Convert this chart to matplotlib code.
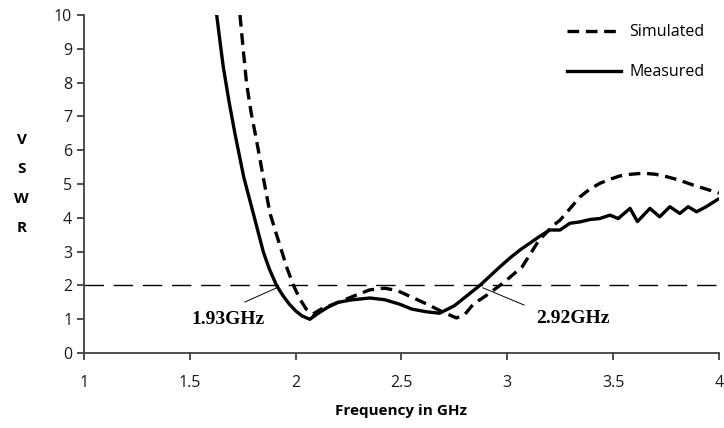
import matplotlib.pyplot as plt

# simulated VSWR
sim_f = [1.737, 1.752, 1.768, 1.79, 1.815, 1.847, 1.879, 1.91, 1.935, 1.96, 1.99,
         2.02, 2.05, 2.08, 2.12, 2.2, 2.28,
         2.35, 2.42, 2.48, 2.55, 2.62, 2.70, 2.76, 2.80, 2.84, 2.90, 2.98, 3.07,
         3.15, 3.22, 3.249, 3.30, 3.343, 3.39, 3.437, 3.485, 3.532, 3.585, 3.642,
         3.70, 3.752, 3.815, 3.878, 3.94, 3.99, 4.0]
sim_v = [10.0, 9.0, 7.98, 7.1, 6.3, 5.2, 4.13, 3.5, 3.0, 2.5, 2.0,
         1.6, 1.3, 1.15, 1.3, 1.5, 1.7,
         1.87, 1.92, 1.85, 1.65, 1.45, 1.2, 1.04, 1.15, 1.45, 1.7, 2.07, 2.55,
         3.34, 3.79, 3.93, 4.3, 4.62, 4.85, 5.02, 5.14, 5.24, 5.29, 5.32,
         5.29, 5.22, 5.11, 4.97, 4.85, 4.75, 4.73]

# measured VSWR
mea_f = [1.627, 1.643, 1.658, 1.685, 1.713, 1.755, 1.80, 1.847, 1.875,
         1.91, 1.94, 1.97, 2.0, 2.03, 2.067, 2.1, 2.15,
         2.2, 2.26, 2.35, 2.42, 2.49, 2.55, 2.62, 2.68, 2.75, 2.81, 2.87, 2.965,
         3.01, 3.06, 3.15, 3.20, 3.249, 3.296, 3.343, 3.39, 3.437, 3.485, 3.524,
         3.58, 3.615, 3.674, 3.72, 3.768, 3.815, 3.855, 3.894, 3.94, 3.99, 4.0]
mea_v = [10.0, 9.2, 8.47, 7.45, 6.5, 5.2, 4.13, 3.0, 2.5,
         2.0, 1.7, 1.45, 1.25, 1.1, 1.0, 1.15, 1.35,
         1.5, 1.57, 1.63, 1.58, 1.45, 1.3, 1.22, 1.18, 1.4, 1.7, 2.0, 2.55,
         2.8, 3.05, 3.44, 3.64, 3.64, 3.84, 3.88, 3.95, 3.98, 4.08, 3.98,
         4.28, 3.89, 4.28, 4.03, 4.33, 4.13, 4.33, 4.18, 4.33, 4.53, 4.56]

xticks = [1, 1.5, 2, 2.5, 3, 3.5, 4]
xtick_labels = ['1', '1.5', '2', '2.5', '3', '3.5', '4']
yticks = list(range(0, 11))

plt.rcParams['font.family'] = ['Open Sans', 'DejaVu Sans']

fig = plt.figure(figsize=(7.24, 4.28), dpi=100)
ax = fig.add_axes([0.116, 0.175, 0.877, 0.79])

ax.plot(sim_f, sim_v, color='black', lw=2.4, linestyle=(0, (3.5, 2)), label='Simulated')
ax.plot(mea_f, mea_v, color='black', lw=2.4, label='Measured')
ax.axhline(2, color='black', lw=1.0, linestyle=(0, (14, 7)))

ax.set_xlim(1, 4)
ax.set_ylim(0, 10)
ax.set_xticks(xticks)
ax.set_xticklabels(xtick_labels)
ax.set_yticks(yticks)

for s in ['top', 'right']:
    ax.spines[s].set_visible(False)
for s in ['left', 'bottom']:
    ax.spines[s].set_color('#404040')
    ax.spines[s].set_linewidth(1.3)
ax.tick_params(axis='both', colors='#404040', width=1.3, length=5, labelsize=11.5,
               labelcolor='#1a1a1a')
ax.tick_params(axis='x', pad=11)

ax.set_xlabel('Frequency in GHz', fontsize=11, fontweight='bold', labelpad=9)
for i, ch in enumerate('VSWR'):
    fig.text(0.03, 0.672 - i * 0.068, ch, fontsize=11, fontweight='bold', ha='center', va='center')

# annotations
ax.plot([1.76, 1.91], [1.51, 1.93], color='black', lw=0.7)
ax.text(1.68, 0.98, '1.93GHz', family='Liberation Serif', fontweight='bold', fontsize=14,
        ha='center', va='center')
ax.plot([2.885, 3.08], [1.93, 1.42], color='black', lw=0.7)
ax.text(3.31, 1.02, '2.92GHz', family='Liberation Serif', fontweight='bold', fontsize=14,
        ha='center', va='center')

ax.legend(loc='upper right', bbox_to_anchor=(1.0, 1.015), frameon=False, fontsize=11.5,
          handlelength=3.4, handletextpad=0.5, labelspacing=1.5)

fig.savefig('out.png')
